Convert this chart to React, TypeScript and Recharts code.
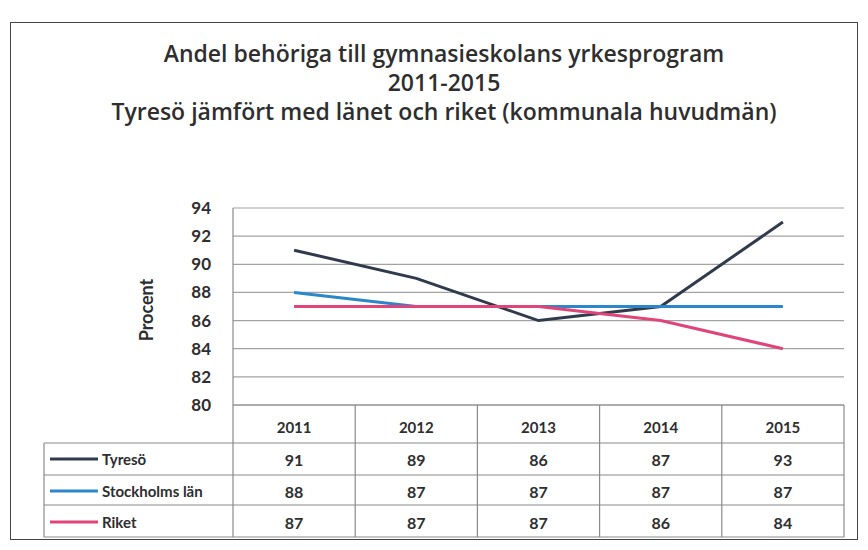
import { LineChart, Line, XAxis, YAxis, CartesianGrid } from "recharts";

const years = ["2011", "2012", "2013", "2014", "2015"];
const tyreso = [91, 89, 86, 87, 93];
const stockholm = [88, 87, 87, 87, 87];
const riket = [87, 87, 87, 86, 84];
const seriesNames = ["Tyresö", "Stockholms län", "Riket"];
const yTicks = [80, 82, 84, 86, 88, 90, 92, 94];
const titleLines = [
  "Andel behöriga till gymnasieskolans yrkesprogram",
  "2011-2015",
  "Tyresö jämfört med länet och riket (kommunala huvudmän)",
];

const colors = ["#2f3b4c", "#2b87c9", "#e0457a"];
const seriesValues = [tyreso, stockholm, riket];

const data = years.map((year, i) => ({
  year,
  tyreso: tyreso[i],
  stockholm: stockholm[i],
  riket: riket[i],
}));

const W = 868;
const H = 550;
const margin = { top: 208, right: 24, left: 156, bottom: 12 };
const yAxisWidth = 77;
const axisY = 405;
const plotLeft = margin.left + yAxisWidth;
const plotRight = W - margin.right;
const colW = (plotRight - plotLeft) / years.length;
const font = "Lato, 'Open Sans', sans-serif";
const titleFont = "'Open Sans', sans-serif";
const textColor = "#2e2e2e";
const tableLine = "#8a8a8a";

// row offsets below the x axis: header, then one per series
const rowLines = [38, 70, 100, 132];
const rowText = [22, 54, 86, 117];

const TableTick = (props: any) => {
  const { x, y, payload, index } = props;
  const right = x + colW / 2;
  const left = x - colW / 2;
  return (
    <g>
      {index === 0 && <line x1={left} x2={left} y1={y} y2={y + rowLines[3]} stroke={tableLine} strokeWidth={1.2} />}
      <line x1={right} x2={right} y1={y} y2={y + rowLines[3]} stroke={tableLine} strokeWidth={1.2} />
      <text x={x} y={y + rowText[0]} textAnchor="middle" dominantBaseline="central" fontSize={15} fontWeight={700} fill={textColor} fontFamily={font}>
        {payload.value}
      </text>
      {seriesValues.map((vals, r) => (
        <text key={r} x={x} y={y + rowText[r + 1]} textAnchor="middle" dominantBaseline="central" fontSize={16} fontWeight={700} fill={textColor} fontFamily={font}>
          {vals[index]}
        </text>
      ))}
    </g>
  );
};

export default function App() {
  return (
    <div style={{ position: "absolute", left: 0, top: 0, width: W, height: H, background: "#fff", fontFamily: font }}>
      <div
        style={{
          position: "absolute",
          left: 10,
          top: 22,
          width: 848,
          height: 518,
          border: "1.5px solid #444",
          boxSizing: "border-box",
        }}
      />
      {titleLines.map((t, i) => (
        <div
          key={i}
          style={{
            position: "absolute",
            left: 0,
            width: 888,
            top: 39 + i * 29,
            textAlign: "center",
            fontFamily: titleFont,
            fontSize: 23,
            fontWeight: 600,
            color: textColor,
            lineHeight: "28px",
          }}
        >
          {t}
        </div>
      ))}
      <div style={{ position: "absolute", left: 0, top: 0 }}>
        <LineChart width={W} height={H} data={data} margin={margin}>
          <CartesianGrid vertical={false} stroke="#a2a2a2" strokeWidth={1.2} />
          <XAxis
            dataKey="year"
            height={H - margin.bottom - axisY}
            padding={{ left: colW / 2, right: colW / 2 }}
            axisLine={{ stroke: tableLine, strokeWidth: 1.2 }}
            tickLine={false}
            tickSize={0}
            tickMargin={0}
            interval={0}
            tick={<TableTick />}
          />
          <YAxis
            width={yAxisWidth}
            domain={[80, 94]}
            ticks={yTicks}
            interval={0}
            axisLine={{ stroke: "#8a8a8a", strokeWidth: 1.2 }}
            tickLine={false}
            tickMargin={16}
            tick={{ fontSize: 17, fontWeight: 700, fill: textColor, fontFamily: font }}
          />
          <Line dataKey="tyreso" stroke={colors[0]} strokeWidth={3} dot={false} isAnimationActive={false} />
          <Line dataKey="stockholm" stroke={colors[1]} strokeWidth={3} dot={false} isAnimationActive={false} />
          <Line dataKey="riket" stroke={colors[2]} strokeWidth={3} dot={false} isAnimationActive={false} />
        </LineChart>
      </div>
      <svg style={{ position: "absolute", left: 0, top: 0 }} width={W} height={H}>
        <text
          x={146}
          y={310}
          transform="rotate(-90 146 310)"
          textAnchor="middle"
          dominantBaseline="central"
          fontSize={18}
          fontWeight={700}
          fill={textColor}
          fontFamily={font}
        >
          Procent
        </text>
        {rowLines.map((dy, i) => (
          <line key={i} x1={44} x2={plotRight} y1={axisY + dy} y2={axisY + dy} stroke={tableLine} strokeWidth={1.2} />
        ))}
        <line x1={44} x2={44} y1={axisY + rowLines[0]} y2={axisY + rowLines[3]} stroke={tableLine} strokeWidth={1.2} />
        {seriesNames.map((name, r) => (
          <g key={name}>
            <line x1={50} x2={98} y1={axisY + rowText[r + 1]} y2={axisY + rowText[r + 1]} stroke={colors[r]} strokeWidth={3} />
            <text x={102} y={axisY + rowText[r + 1]} dominantBaseline="central" fontSize={15} fontWeight={700} fill={textColor} fontFamily={font}>
              {name}
            </text>
          </g>
        ))}
      </svg>
    </div>
  );
}
